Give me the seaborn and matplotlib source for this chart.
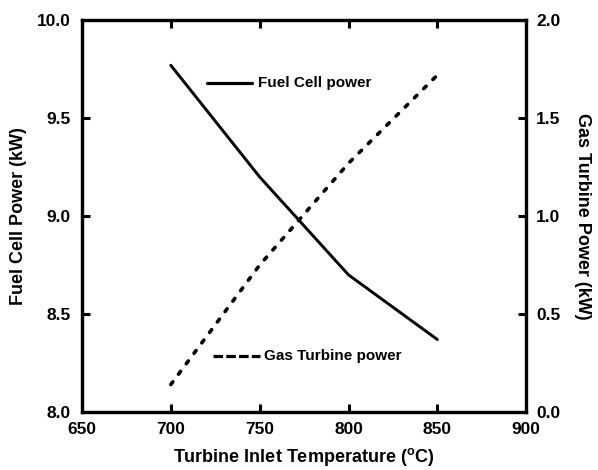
import numpy as np
import pandas as pd
import matplotlib
matplotlib.use("Agg")
import matplotlib.pyplot as plt
import seaborn as sns

# ----------------------
# 数据
# ----------------------
temperature = [700, 750, 800, 850]
fuel_cell_power = [9.77, 9.20, 8.70, 8.37]
gas_turbine_power = [0.14, 0.75, 1.27, 1.72]

x_ticks = [650, 700, 750, 800, 850, 900]
left_ticks = [8.0, 8.5, 9.0, 9.5, 10.0]
right_ticks = [0.0, 0.5, 1.0, 1.5, 2.0]

df = pd.DataFrame({
    "temp": temperature,
    "fc": fuel_cell_power,
    "gt": gas_turbine_power,
})

sns.set_style("ticks")
plt.rcParams["font.family"] = ["Liberation Sans", "DejaVu Sans"]
plt.rcParams["font.weight"] = "bold"
plt.rcParams["axes.labelweight"] = "bold"
for k in ["text.color", "axes.labelcolor", "axes.edgecolor", "xtick.color", "ytick.color"]:
    plt.rcParams[k] = "black"

fig = plt.figure(figsize=(5.98, 4.70), dpi=100)
ax1 = fig.add_axes([0.137, 0.1234, 0.743, 0.8336])
ax2 = ax1.twinx()

sns.lineplot(data=df, x="temp", y="fc", ax=ax1, color="black", linewidth=2.1)
sns.lineplot(data=df, x="temp", y="gt", ax=ax2, color="black", linewidth=2.6,
             linestyle=(0, (0.95, 2.65)), dash_capstyle="round")

ax1.set_xlim(650, 900)
ax1.set_ylim(8.0, 10.0)
ax2.set_ylim(0.0, 2.0)
ax1.set_xticks(x_ticks)
ax1.set_yticks(left_ticks)
ax2.set_yticks(right_ticks)
ax1.set_xticklabels([str(t) for t in x_ticks])
ax1.set_yticklabels([f"{t:.1f}" for t in left_ticks])
ax2.set_yticklabels([f"{t:.1f}" for t in right_ticks])

for a in (ax1, ax2):
    for s in a.spines.values():
        s.set_linewidth(2.3)
        s.set_visible(True)
    a.tick_params(direction="in", length=6, width=2.2, labelsize=12.5)

ax1.tick_params(axis="x", top=True, pad=7)
ax1.tick_params(axis="y", pad=8)
ax2.tick_params(axis="y", pad=7)

# 端点不画刻度线（保留标签）
for t in ax1.xaxis.get_major_ticks():
    if t.get_loc() in (650, 900):
        t.tick1line.set_visible(False)
        t.tick2line.set_visible(False)
for t in ax1.yaxis.get_major_ticks():
    if t.get_loc() in (8.0, 10.0):
        t.tick1line.set_visible(False)
for t in ax2.yaxis.get_major_ticks():
    if t.get_loc() in (0.0, 2.0):
        t.tick2line.set_visible(False)

ax1.set_xlabel("Turbine Inlet Temperature ($^\\mathregular{o}$C)", fontsize=13, labelpad=7)
ax1.set_ylabel("Fuel Cell Power (kW)", fontsize=13, labelpad=7)
ax2.set_ylabel("Gas Turbine Power (kW)", fontsize=13, rotation=270, labelpad=22)

# 图例（手动放置）
ax1.plot([0.282, 0.383], [0.84, 0.84], transform=ax1.transAxes, color="black",
         linewidth=2.3)
ax1.text(0.396, 0.84, "Fuel Cell power", transform=ax1.transAxes, fontsize=11,
         va="center", ha="left")
ax1.plot([0.295, 0.401], [0.143, 0.143], transform=ax1.transAxes, color="black",
         linewidth=2.3, linestyle=(0, (3, 1)))
ax1.text(0.409, 0.143, "Gas Turbine power", transform=ax1.transAxes, fontsize=11,
         va="center", ha="left")

fig.savefig("out.png", dpi=100)
